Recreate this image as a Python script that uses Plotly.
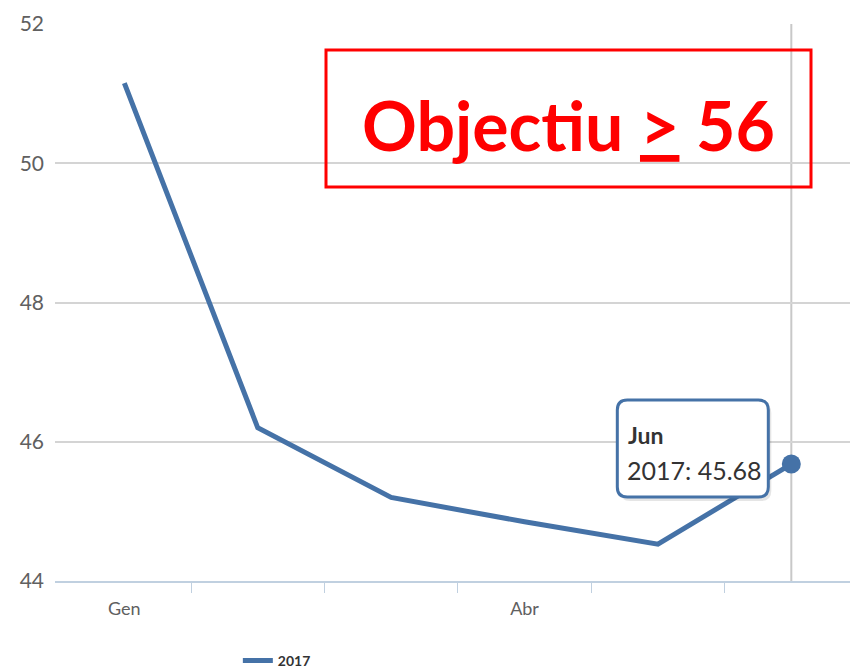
import plotly.graph_objects as go

months = ["Gen", "Feb", "Mar", "Abr", "Mai", "Jun"]
values_2017 = [51.15, 46.20, 45.20, 44.85, 44.53, 45.68]
series_name = "2017"
shown_month_labels = ["Gen", "Abr"]
y_ticks = [44, 46, 48, 50, 52]
target_text = "Objectiu <u>&gt;</u> 56"

LINE = "#4572A7"
xs = list(range(len(months)))
last_i = len(months) - 1

fig = go.Figure()
fig.add_trace(go.Scatter(
    x=xs, y=values_2017, mode="lines", name=series_name,
    line=dict(color=LINE, width=5), hoverinfo="skip",
))
fig.add_trace(go.Scatter(
    x=[xs[last_i]], y=[values_2017[last_i]], mode="markers",
    marker=dict(color=LINE, size=19), showlegend=False, hoverinfo="skip",
))

# crosshair at highlighted point
fig.add_shape(type="line", xref="x", yref="paper", x0=xs[last_i], x1=xs[last_i],
              y0=0, y1=1, line=dict(color="#C8C8C8", width=2), layer="below")

# tooltip box (rounded) anchored to the point, pixel-sized
def rrect(l, b, r, t, rad):
    return (f"M{l+rad},{t} L{r-rad},{t} Q{r},{t} {r},{t-rad} L{r},{b+rad} Q{r},{b} {r-rad},{b} "
            f"L{l+rad},{b} Q{l},{b} {l},{b+rad} L{l},{t-rad} Q{l},{t} {l+rad},{t} Z")

fig.add_shape(type="path", xref="x", yref="y", xsizemode="pixel", ysizemode="pixel",
              xanchor=xs[last_i], yanchor=values_2017[last_i],
              path=rrect(-171, -37, -20, 61, 10),
              fillcolor="rgba(0,0,0,0.10)", line=dict(width=0))
fig.add_shape(type="path", xref="x", yref="y", xsizemode="pixel", ysizemode="pixel",
              xanchor=xs[last_i], yanchor=values_2017[last_i],
              path=rrect(-174, -33, -23, 64, 10),
              fillcolor="white", line=dict(color=LINE, width=3))
fig.add_annotation(x=xs[last_i], y=values_2017[last_i], xref="x", yref="y",
                   text=f"<b>{months[last_i]}</b>", showarrow=False,
                   xanchor="left", yanchor="middle", xshift=-165, yshift=29,
                   font=dict(family="Lato", size=23, color="#333333"))
fig.add_annotation(x=xs[last_i], y=values_2017[last_i], xref="x", yref="y",
                   text=f"{series_name}: {values_2017[last_i]:.2f}", showarrow=False,
                   xanchor="left", yanchor="middle", xshift=-166, yshift=-6,
                   font=dict(family="Lato", size=25, color="#333333"))

# target box
fig.add_shape(type="rect", xref="paper", yref="paper",
              x0=(326-55)/795, x1=(811-55)/795, y0=(581-187)/557, y1=(581-50)/557,
              line=dict(color="#FF0000", width=3), fillcolor="rgba(0,0,0,0)")
fig.add_annotation(xref="paper", yref="paper", x=(568-55)/795, y=(581-124)/557,
                   text=f"<b>{target_text}</b>", showarrow=False,
                   xanchor="center", yanchor="middle",
                   font=dict(family="Lato", size=68, color="#FF0000"))

fig.update_layout(
    width=850, height=671,
    margin=dict(l=55, r=0, t=24, b=90, autoexpand=False),
    paper_bgcolor="white", plot_bgcolor="white",
    showlegend=True, hovermode=False,
    legend=dict(orientation="h", x=0.23, xanchor="left", y=-0.1436, yanchor="middle",
                font=dict(family="Lato", size=14, color="#333333", weight="bold"),
                bgcolor="rgba(0,0,0,0)"),
    font=dict(family="Lato"),
)
fig.update_xaxes(
    range=[-0.52, 5.44], tickmode="array", automargin=False,
    tickvals=[months.index(m) for m in shown_month_labels], ticktext=shown_month_labels,
    ticks="", showgrid=False, zeroline=False,
    showline=True, linecolor="#C0D0E0", linewidth=2,
    tickfont=dict(family="Lato", size=18, color="#606060"), ticklabelstandoff=10,
    minor=dict(tickmode="array", tickvals=[i + 0.5 for i in xs[:-1]],
               ticks="outside", ticklen=10, tickcolor="#C0D0E0", tickwidth=1, showgrid=False),
)
fig.update_yaxes(
    range=[44, 52], tickmode="array", tickvals=y_ticks, automargin=False,
    showgrid=True, gridcolor="#D4D4D4", gridwidth=2, zeroline=False, showline=False,
    tickfont=dict(family="Lato", size=21, color="#606060"), ticklabelstandoff=10,
)

fig.write_html("out.html", config={"displayModeBar": False},
               post_script="document.body.style.margin='0';document.body.style.padding='0';")
